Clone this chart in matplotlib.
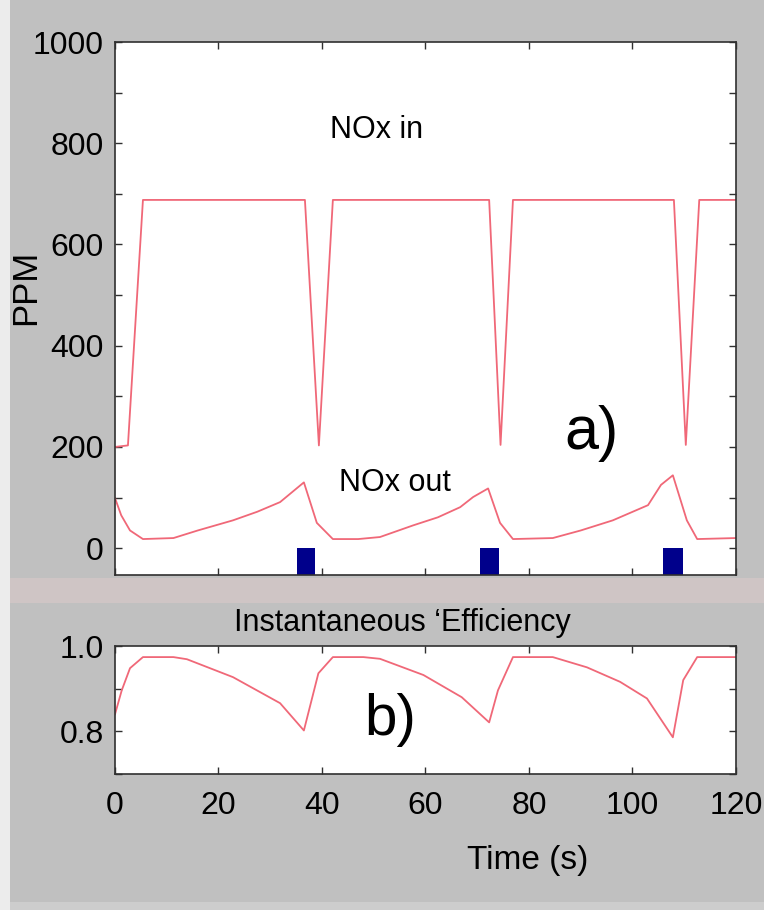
import matplotlib
matplotlib.use("Agg")
import matplotlib.pyplot as plt
from matplotlib.patches import Rectangle

plt.rcParams['font.family'] = ['Liberation Sans', 'DejaVu Sans']

# NOx into the trap (ppm)
nox_in_t = [0, 2.5, 5.4, 36.7, 39.4, 42.1, 72.3, 74.5, 76.9, 108.0, 110.3, 112.9, 120]
nox_in = [200, 203, 688, 688, 203, 688, 688, 204, 688, 688, 204, 688, 688]

# NOx out of the trap (ppm)
nox_out_t = [0, 1.2, 2.9, 5.4, 11.3, 16.0, 22.8, 27.5, 31.9, 36.5, 39.0, 42.1,
             47.0, 51.2, 57.6, 62.4, 66.7, 69.2, 72.1, 74.4, 76.9, 84.6, 90.0,
             96.2, 103.0, 105.5, 107.8, 110.5, 112.5, 120]
nox_out = [99, 65, 35, 18, 20, 35, 55, 72, 91, 130, 50, 18,
           18, 22, 45, 61, 81, 101, 118, 50, 18, 20, 35,
           55, 85, 125, 144, 55, 18, 20]

# regeneration pulses (s)
pulse_start = [35.1, 70.5, 105.9]
pulse_end = [38.6, 74.2, 109.8]

# instantaneous efficiency
eff_t = [0, 1.3, 2.9, 5.4, 11.3, 13.9, 22.8, 31.9, 36.5, 39.3, 42.1, 48.0, 51.2,
         59.6, 67.0, 72.3, 74.0, 76.9, 84.6, 91.2, 97.6, 102.8, 107.8, 109.8, 112.5, 120]
eff = [0.84, 0.896, 0.948, 0.974, 0.974, 0.969, 0.927, 0.866, 0.802, 0.936, 0.974, 0.974, 0.97,
       0.932, 0.880, 0.821, 0.896, 0.974, 0.974, 0.95, 0.916, 0.877, 0.786, 0.92, 0.974, 0.974]

line_color = '#f06878'
bar_color = '#00008b'
edge = '#303030'

fig = plt.figure(figsize=(7.64, 9.10), dpi=100, facecolor='#c0c0c0')

# scanned-page style background strips
fig.patches.append(Rectangle((0, 0), 10 / 764, 1, transform=fig.transFigure,
                             facecolor='#ececec', edgecolor='none', zorder=-5))
fig.patches.append(Rectangle((10 / 764, 1 - 603 / 910), 1, 25 / 910, transform=fig.transFigure,
                             facecolor='#cfc5c5', edgecolor='none', zorder=-5))
fig.patches.append(Rectangle((10 / 764, 0), 1, 8 / 910, transform=fig.transFigure,
                             facecolor='#cdcdcd', edgecolor='none', zorder=-5))

ax1 = fig.add_axes([115 / 764, 1 - 575 / 910, 621 / 764, 533 / 910])
ax2 = fig.add_axes([115 / 764, 1 - 774 / 910, 621 / 764, 128 / 910])


def style(ax):
    for s in ax.spines.values():
        s.set_color(edge)
        s.set_linewidth(1.2)
    ax.tick_params(which='both', direction='in', top=True, right=True,
                   length=5, width=1, color=edge, labelsize=23, pad=8)
    ax.set_xlim(0, 120)
    ax.set_xticks([0, 20, 40, 60, 80, 100, 120])


# a) NOx in / out
style(ax1)
ax1.plot(nox_in_t, nox_in, color=line_color, lw=1.3)
ax1.plot(nox_out_t, nox_out, color=line_color, lw=1.3)
ylo = -53
for s, e in zip(pulse_start, pulse_end):
    ax1.bar((s + e) / 2, 0 - ylo, width=e - s, bottom=ylo, color=bar_color)
ax1.set_ylim(ylo, 1000)
ax1.set_yticks(range(0, 1001, 100))
ax1.set_yticklabels([str(v) if v % 200 == 0 else '' for v in range(0, 1001, 100)])
ax1.set_xticklabels([])
ax1.text(50.6, 826, 'NOx in', fontsize=22, ha='center', va='center')
ax1.text(54.1, 128, 'NOx out', fontsize=22, ha='center', va='center')
ax1.text(92, 227, 'a)', fontsize=44, ha='center', va='center')

# b) efficiency
style(ax2)
ax2.plot(eff_t, eff, color=line_color, lw=1.3)
ax2.set_ylim(0.7, 1.0)
ax2.set_yticks([0.7, 0.8, 0.9, 1.0])
ax2.set_yticklabels(['', '0.8', '', '1.0'])
ax2.tick_params(axis='x', pad=12)
ax2.text(53.1, 0.826, 'b)', fontsize=42, ha='center', va='center')

fig.text(402 / 764, 1 - 623 / 910, 'Instantaneous \u2018Efficiency', fontsize=22,
         ha='center', va='center')
fig.text(528 / 764, 1 - 860 / 910, 'Time (s)', fontsize=24, ha='center', va='center')
fig.text(26 / 764, 1 - 287 / 910, 'PPM', fontsize=25, rotation=90, ha='center', va='center')

fig.savefig('out.png', dpi=100, facecolor=fig.get_facecolor())
